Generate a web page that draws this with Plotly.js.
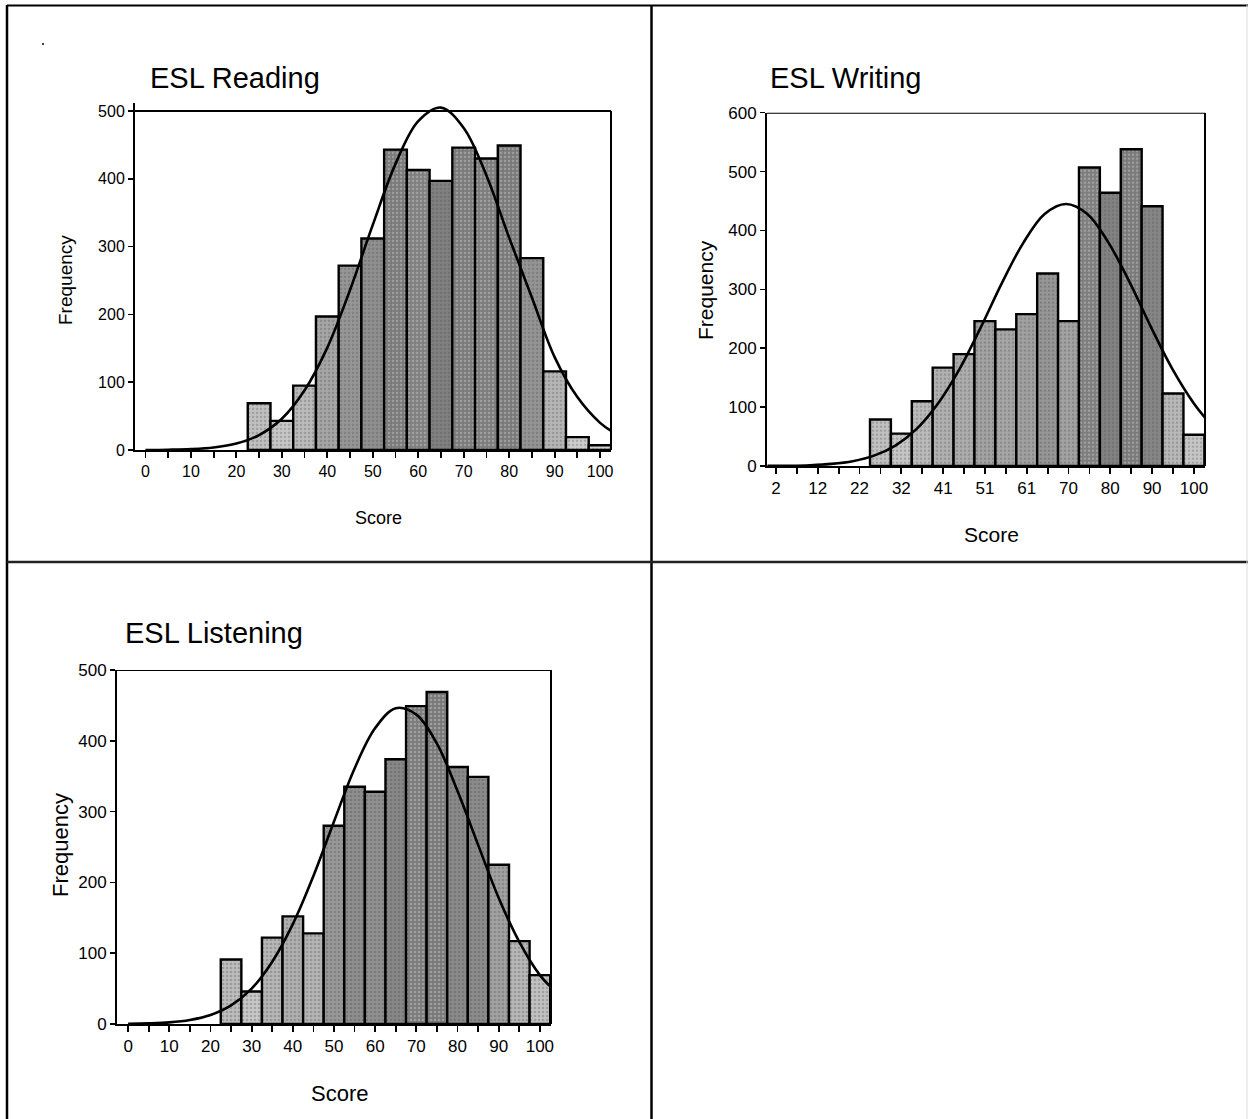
<!DOCTYPE html>
<html>
<head>
<meta charset="utf-8">
<script src="https://cdn.plot.ly/plotly-3.0.1.min.js"></script>
<style>html,body{margin:0;padding:0;background:#fff;}#chart{width:1248px;height:1119px;}</style>
</head>
<body>
<div id="chart"></div>
<script>
// ---------- DATA ----------
// ESL Reading
const readingBins = [25,30,35,40,45,50,55,60,65,70,75,80,85,90,95,100];
const readingFreq = [69,43,95,197,272,312,443,413,397,446,430,449,283,116,19,7];
const readingCurveX = [0,5,10,15,20,25,30,35,40,45,50,55,60,65,70,75,80,85,90,95,100,102.5];
const readingCurveY = [0,0.4,1.3,3.7,9.5,22,46,88,151,236,332,422,485,505,475,405,313,225,137,78,40,28];
const readingTickVals = [0,5,10,15,20,25,30,35,40,45,50,55,60,65,70,75,80,85,90,95,100];
const readingTickText = ['0','','10','','20','','30','','40','','50','','60','','70','','80','','90','','100'];

// ESL Writing
const writingBins = [26.5,31.4,36.3,41.2,46.1,51,55.9,60.8,65.7,70.6,75.5,80.4,85.3,90.2,95.1,100];
const writingFreq = [79,55,110,167,190,246,232,258,327,246,507,464,538,441,123,53];
const writingCurveX = [0,5,10,15,20,25,30,35,40,45,50,55,60,65,70,75,80,85,90,95,100,102.6];
const writingCurveY = [0.2,0.5,1.4,3.6,8.2,17.6,34.7,63,106,164,235,311,379,428,445,428,379,311,235,164,106,82];
const writingTickVals = [2,6.9,11.8,16.7,21.6,26.5,31.4,36.3,41.2,46.1,51,55.9,60.8,65.7,70.6,75.5,80.4,85.3,90.2,95.1,100];
const writingTickText = ['2','','12','','22','','32','','41','','51','','61','','70','','80','','90','','100'];

// ESL Listening
const listeningBins = [25,30,35,40,45,50,55,60,65,70,75,80,85,90,95,100];
const listeningFreq = [91,46,122,152,128,280,335,328,374,449,469,363,349,225,117,69];
const listeningCurveX = [0,5,10,15,20,25,30,35,40,45,50,55,60,65,70,75,80,85,90,95,100,102.7];
const listeningCurveY = [0.3,0.9,2.3,5.7,12.8,26.4,50,88,141,209,286,361,418,446,437,396,329,253,178,116,69,52];
const listeningTickVals = readingTickVals;
const listeningTickText = readingTickText;

// ---------- LAYOUT HELPERS ----------
const W = 1248, H = 1119;
const px = x => x / W;
const py = y => 1 - y / H;
const FONT = 'Liberation Sans, Arial, sans-serif';

function grays(vals) {
  const mx = Math.max(...vals);
  return vals.map(v => {
    const g = Math.round(215 - 95 * Math.pow(v / mx, 0.8));
    return 'rgb(' + g + ',' + g + ',' + g + ')';
  });
}

function barTrace(x, y, xa, ya, w) {
  return {type: 'bar', x: x, y: y, xaxis: xa, yaxis: ya, width: w,
    marker: {color: grays(y), line: {color: '#000', width: 2.4},
      pattern: {shape: '.', fillmode: 'overlay', fgcolor: '#000', fgopacity: 0.28, size: 4, solidity: 0.35}},
    hoverinfo: 'x+y'};
}
function curveTrace(x, y, xa, ya) {
  return {type: 'scatter', mode: 'lines', x: x, y: y, xaxis: xa, yaxis: ya,
    line: {color: '#000', width: 2.6, shape: 'spline', smoothing: 1.0}, hoverinfo: 'skip'};
}

function xAxis(dom, rng, tv, tt, anchor, fs) {
  return {domain: dom, range: rng, anchor: anchor, tickmode: 'array', tickvals: tv, ticktext: tt,
    showgrid: false, zeroline: false, showline: true, linecolor: '#000', linewidth: 2,
    ticks: 'outside', ticklen: 6, tickwidth: 1.8, tickcolor: '#000',
    tickfont: {family: FONT, size: fs, color: '#000'}, fixedrange: true};
}
function yAxis(dom, rng, dt, anchor, fs) {
  return {domain: dom, range: rng, anchor: anchor, dtick: dt, tick0: 0,
    showgrid: false, zeroline: false, showline: true, linecolor: '#000', linewidth: 2,
    ticks: 'outside', ticklen: 5, tickwidth: 1.5, tickcolor: '#000',
    tickfont: {family: FONT, size: fs, color: '#000'}, fixedrange: true};
}

// Reading: 0 at y=450, 500 at y=111; range to 512 so the curve peak shows above the frame
const rdTop = 450 - 512 * (339 / 500);

const data = [
  barTrace(readingBins, readingFreq, 'x', 'y', 5),
  curveTrace(readingCurveX, readingCurveY, 'x', 'y'),
  barTrace(writingBins, writingFreq, 'x2', 'y2', 4.9),
  curveTrace(writingCurveX, writingCurveY, 'x2', 'y2'),
  barTrace(listeningBins, listeningFreq, 'x3', 'y3', 5),
  curveTrace(listeningCurveX, listeningCurveY, 'x3', 'y3')
];

function frameBox(xa, ya, top) {
  return [
    {type: 'line', xref: xa + ' domain', yref: ya, x0: 0, x1: 1, y0: top, y1: top, line: {color: '#000', width: 2}},
    {type: 'line', xref: xa + ' domain', yref: ya, x0: 1, x1: 1, y0: 0, y1: top, line: {color: '#000', width: 2}}
  ];
}

const shapes = [].concat(
  frameBox('x', 'y', 500),
  frameBox('x2', 'y2', 600),
  frameBox('x3', 'y3', 500),
  [
    // table frame
    {type: 'line', xref: 'paper', yref: 'paper', x0: px(7), x1: px(1248), y0: py(5.5), y1: py(5.5), line: {color: '#000', width: 2}},
    {type: 'line', xref: 'paper', yref: 'paper', x0: px(7), x1: px(7), y0: py(5), y1: py(1119), line: {color: '#000', width: 2.5}},
    {type: 'line', xref: 'paper', yref: 'paper', x0: px(651.5), x1: px(651.5), y0: py(5), y1: py(1119), line: {color: '#000', width: 2.5}},
    {type: 'line', xref: 'paper', yref: 'paper', x0: px(7), x1: px(1248), y0: py(562), y1: py(562), line: {color: '#222', width: 2.5}},
    {type: 'line', xref: 'paper', yref: 'paper', x0: px(1247), x1: px(1247), y0: py(5), y1: py(1119), line: {color: '#ddd', width: 1}},
    {type: 'circle', xref: 'paper', yref: 'paper', x0: px(42), x1: px(44), y0: py(43), y1: py(45), fillcolor: '#000', line: {width: 0}}
  ]
);

function ann(text, x, y, size, opts) {
  return Object.assign({text: text, xref: 'paper', yref: 'paper', x: px(x), y: py(y), showarrow: false,
    font: {family: FONT, size: size, color: '#000'}, xanchor: 'center', yanchor: 'middle'}, opts || {});
}

const annotations = [
  ann('ESL Reading', 148, 78, 29, {xanchor: 'left'}),
  ann('ESL Writing', 768, 78, 29, {xanchor: 'left'}),
  ann('ESL Listening', 123, 633, 29, {xanchor: 'left'}),
  ann('Score', 379, 518, 18),
  ann('Frequency', 65, 280, 19, {textangle: -90}),
  ann('Score', 992, 534, 21),
  ann('Frequency', 705, 290, 21, {textangle: -90}),
  ann('Score', 340, 1093, 22),
  ann('Frequency', 60, 845, 22, {textangle: -90})
];

const layout = {
  width: W, height: H, margin: {l: 0, r: 0, t: 0, b: 0, pad: 0},
  paper_bgcolor: '#fff', plot_bgcolor: '#fff', showlegend: false, bargap: 0,
  xaxis: xAxis([px(135), px(611)], [-2.3, 102.4], readingTickVals, readingTickText, 'y', 16),
  yaxis: yAxis([py(450), py(rdTop)], [0, 512], 100, 'x', 16),
  xaxis2: xAxis([px(767), px(1205)], [-0.1, 102.6], writingTickVals, writingTickText, 'y2', 17),
  yaxis2: yAxis([py(466), py(112.7)], [0, 600], 100, 'x2', 17),
  xaxis3: xAxis([px(117), px(551)], [-2.7, 102.7], listeningTickVals, listeningTickText, 'y3', 17),
  yaxis3: yAxis([py(1024), py(670)], [0, 500], 100, 'x3', 17),
  shapes: shapes,
  annotations: annotations
};

Plotly.newPlot('chart', data, layout, {staticPlot: true, displayModeBar: false});
</script>
</body>
</html>
